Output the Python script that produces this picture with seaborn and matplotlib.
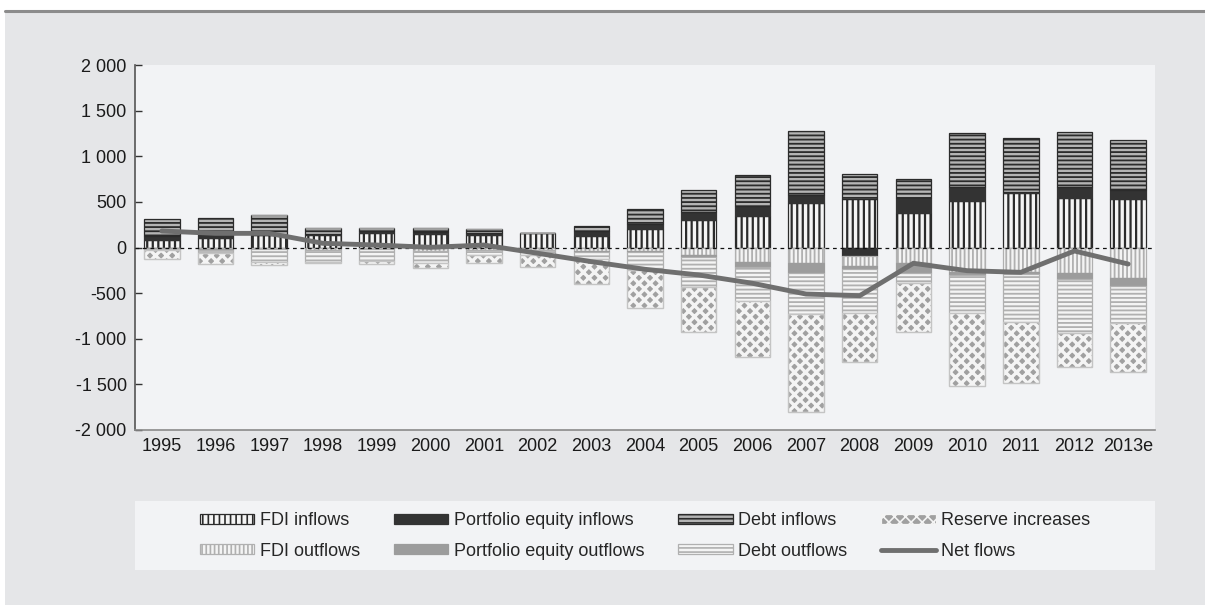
import numpy as np
import pandas as pd
import matplotlib
matplotlib.use("Agg")
import matplotlib.pyplot as plt
import matplotlib.patches as mpatches
from matplotlib.lines import Line2D
import seaborn as sns

years = ["1995", "1996", "1997", "1998", "1999", "2000", "2001", "2002", "2003", "2004",
         "2005", "2006", "2007", "2008", "2009", "2010", "2011", "2012", "2013e"]
fdi_in = [80, 100, 142, 137, 164, 150, 137, 155, 124, 205, 301, 345, 484, 528, 381, 510, 594, 539, 535]
port_in = [44, 43, 0, 13, 15, 15, 20, 0, 57, 55, 85, 110, 91, -88, 158, 156, 10, 127, 95]
debt_in = [183, 184, 214, 60, 31, 45, 48, 0, 55, 159, 244, 336, 702, 277, 208, 586, 597, 596, 548]
fdi_out = [-10, -20, -20, -25, -20, -35, -30, -30, -40, -40, -82, -156, -167, -117, -173, -265, -265, -283, -338]
port_out = [-5, -5, 0, 0, 0, 0, 0, 0, -10, -10, -25, -54, -116, -36, -103, -36, -30, -58, -81]
debt_out = [-14, -33, -135, -130, -130, -132, -52, -52, -79, -200, -322, -376, -449, -475, -110, -413, -518, -599, -412]
reserves = [-95, -123, -42, -18, -34, -55, -91, -135, -274, -410, -500, -611, -1071, -541, -543, -800, -669, -366, -537]
net = [181, 155, 155, 46, 27, 2, 27, -63, -155, -239, -301, -392, -510, -528, -173, -254, -272, -38, -181]

sns.set_theme(style="white")
plt.rcParams["font.family"] = ["Liberation Sans", "DejaVu Sans"]
plt.rcParams["hatch.linewidth"] = 1.2

# name, values, face, edge, hatch, hatch lw
series = [
    ("FDI inflows", fdi_in, "#f4f4f4", "#2b2b2b", "|||", 1.6),
    ("Portfolio equity inflows", port_in, "#333333", "#333333", None, 1.0),
    ("Debt inflows", debt_in, "#b4b4b4", "#2b2b2b", "----", 1.3),
    ("FDI outflows", fdi_out, "#f4f4f4", "#b0b0b0", "||||", 1.3),
    ("Portfolio equity outflows", port_out, "#9c9c9c", "#9c9c9c", None, 1.0),
    ("Debt outflows", debt_out, "#f4f4f4", "#b0b0b0", "----", 1.3),
    ("Reserve increases", reserves, "#a0a0a0", "#f4f4f4", "xxx", 2.4),
]

fig = plt.figure(figsize=(12.05, 6.05), dpi=100, facecolor="white")
# outer grey panel with a top rule
fig.patches.append(mpatches.Rectangle((0.004, 0), 0.996, 1 - 12 / 605, transform=fig.transFigure,
                                      facecolor="#e5e6e8", edgecolor="none", zorder=-10))
fig.lines.append(Line2D([0.004, 1], [1 - 11 / 605] * 2, transform=fig.transFigure,
                        color="#8c8c8c", lw=2.2))
# legend box
fig.patches.append(mpatches.Rectangle((135 / 1205, 35 / 605), 1020 / 1205, 69 / 605,
                                      transform=fig.transFigure, facecolor="#f2f3f5",
                                      edgecolor="none", zorder=-5))

ax = fig.add_axes([135 / 1205, 175 / 605, 1020 / 1205, 365 / 605])
ax.set_facecolor("#f2f3f5")

pos = np.zeros(len(years))
neg = np.zeros(len(years))
handles = {}
for name, vals, face, edge, hatch, hlw in series:
    v = np.array(vals, dtype=float)
    bottom = np.where(v >= 0, pos, neg)
    df = pd.DataFrame({"year": years, "value": v})
    n_before = len(ax.patches)
    with plt.rc_context({"hatch.linewidth": hlw}):
        sns.barplot(data=df, x="year", y="value", order=years, errorbar=None, ax=ax,
                    width=0.66, bottom=bottom, color=face, saturation=1,
                    facecolor=face, edgecolor=edge, hatch=hatch, linewidth=0.9, zorder=2)
    for p in ax.patches[n_before:]:
        if hasattr(p, "set_hatch_linewidth"):
            p.set_hatch_linewidth(hlw)
    if name == "Reserve increases":
        ax.bar(np.arange(len(years)), v, width=0.66, bottom=bottom, fill=False,
               edgecolor="#c4c4c4", linewidth=1.0, zorder=3)
    pos = pos + np.where(v > 0, v, 0)
    neg = neg + np.where(v < 0, v, 0)
    with plt.rc_context({"hatch.linewidth": hlw}):
        h = mpatches.Patch(facecolor=face, edgecolor=edge, hatch=hatch, linewidth=0.9, label=name)
    if hasattr(h, "set_hatch_linewidth"):
        h.set_hatch_linewidth(hlw)
    handles[name] = h

ax.axhline(0, color="#111111", lw=0.9, ls=(0, (3, 3)), zorder=4)
line, = ax.plot(np.arange(len(years)), net, color="#6f6f6f", lw=3.5, zorder=5,
                solid_joinstyle="miter", label="Net flows")

ax.set_xlim(-0.5, len(years) - 0.5)
ax.set_ylim(-2000, 2000)
ax.set_yticks(np.arange(-2000, 2001, 500))
ax.set_yticklabels([f"{t:,}".replace(",", " ") for t in range(-2000, 2001, 500)])
ax.set_xticks(np.arange(len(years)))
ax.set_xticklabels(years)
ax.set_xticks(np.arange(0.5, len(years) - 1), minor=True)
ax.set_xlabel("")
ax.set_ylabel("")
ax.tick_params(axis="x", which="major", length=0, pad=6, labelsize=13, colors="#1a1a1a")
ax.tick_params(axis="x", which="minor", direction="in", length=5, width=1, color="#333333")
ax.tick_params(axis="y", direction="in", length=5, width=1, color="#333333", pad=6,
               labelsize=13, labelcolor="#1a1a1a", left=True)
for s in ["top", "right"]:
    ax.spines[s].set_visible(False)
ax.spines["left"].set_color("#555555")
ax.spines["left"].set_linewidth(1.2)
ax.spines["bottom"].set_color("#8a8a8a")
ax.spines["bottom"].set_linewidth(1.2)

order = ["FDI inflows", "FDI outflows", "Portfolio equity inflows", "Portfolio equity outflows",
         "Debt inflows", "Debt outflows", "Reserve increases"]
hl = [handles[k] for k in order] + [line]
fig.legend(handles=hl, labels=order + ["Net flows"], ncol=4, loc="center",
           bbox_to_anchor=(645 / 1205, 69 / 605), frameon=False, fontsize=13,
           handlelength=3.0, handleheight=0.45, handletextpad=0.3, columnspacing=1.9,
           labelspacing=0.75)

fig.savefig("out.png", dpi=100, facecolor=fig.get_facecolor())
